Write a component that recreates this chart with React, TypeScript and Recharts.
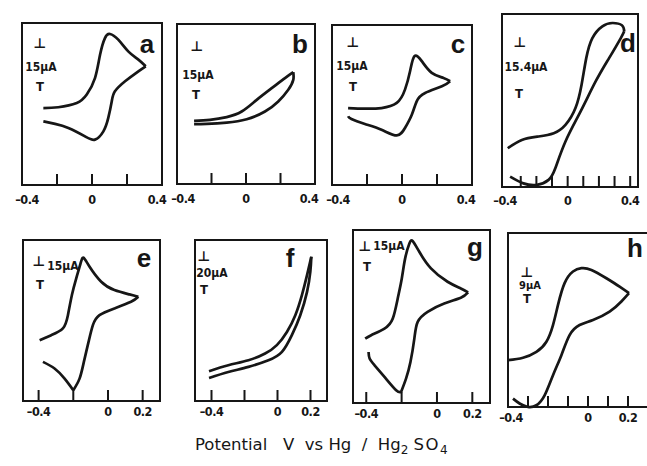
import { LineChart, Line, XAxis, YAxis, ReferenceLine, ReferenceArea } from 'recharts';

// current is in relative units: 0 = bottom of the frame, 100 = top of the frame
type Pt = { v: number; i: number };
const pts = (rows: number[][]): Pt[] => rows.map(([v, i]) => ({ v, i }));

// a
const aForward = pts([[-0.278, 47.5], [-0.193, 48], [-0.087, 50.6], [-0.03, 55.8], [0.017, 66], [0.046, 80.4], [0.074, 90.7], [0.103, 93.2], [0.15, 89.7], [0.207, 82.5], [0.265, 77.4], [0.307, 73.3]]);
const aReverse = pts([[0.307, 73.3], [0.265, 70.2], [0.189, 64], [0.131, 57.8], [0.113, 51.7], [0.093, 41.4], [0.065, 33.1], [0.017, 28], [-0.04, 30], [-0.135, 35.2], [-0.211, 37.7], [-0.278, 39.3]]);

// b
const bForward = pts([[-0.301, 39.4], [-0.209, 40.1], [-0.112, 41.8], [-0.025, 45.3], [0.062, 52.6], [0.149, 59.9], [0.226, 66.2], [0.274, 69.9]]);
const bReverse = pts([[0.274, 69.9], [0.274, 65.1], [0.245, 58.9], [0.187, 51.6], [0.11, 45.3], [0.004, 40.5], [-0.112, 38.4], [-0.228, 37.6], [-0.301, 37.4]]);

// c
const cForward = pts([[-0.308, 48.1], [-0.212, 47.7], [-0.117, 48.1], [-0.03, 51.3], [0.017, 59.6], [0.046, 71.1], [0.071, 80.5], [0.113, 77.4], [0.17, 70.1], [0.237, 66.9], [0.275, 64.9]]);
const cReverse = pts([[0.275, 64.9], [0.228, 61.7], [0.132, 57.5], [0.084, 52.3], [0.056, 43.9], [0.017, 35.6], [-0.03, 31], [-0.117, 34.5], [-0.212, 38.1], [-0.289, 41.2], [-0.308, 42.9]]);

// d
const dForward = pts([[-0.383, 22.4], [-0.293, 27.2], [-0.186, 29.2], [-0.089, 31.1], [-0.014, 35.9], [0.05, 45.6], [0.089, 59.1], [0.119, 74.5], [0.158, 86.1], [0.222, 92.9], [0.287, 94.8], [0.347, 93.5], [0.362, 90]]);
const dReverse = pts([[0.362, 90], [0.34, 86.1], [0.265, 74.5], [0.179, 61], [0.083, 43.7], [-0.014, 26.3], [-0.079, 10.8], [-0.122, 4.1], [-0.196, 1.2], [-0.283, 2.1], [-0.368, 6]]);

// e
const eForward = pts([[-0.394, 37.8], [-0.327, 40.9], [-0.26, 45.1], [-0.231, 53.3], [-0.208, 65.8], [-0.183, 76.2], [-0.158, 85.5], [-0.141, 89], [-0.106, 83.4], [-0.039, 74.1], [0.037, 68.9], [0.124, 66.2], [0.175, 64.7]]);
const eReverse = pts([[0.175, 64.7], [0.133, 61.6], [0.037, 57.5], [-0.049, 53.3], [-0.087, 47.1], [-0.112, 36.7], [-0.139, 24.3], [-0.164, 13.9], [-0.2, 6.7]]);
const eTail = pts([[-0.2, 6.7], [-0.25, 13.9], [-0.308, 20.2], [-0.375, 24.3]]);

// f
const fForward = pts([[-0.415, 18.5], [-0.298, 22.2], [-0.176, 25.3], [-0.075, 29.5], [-0.004, 34.7], [0.057, 42.9], [0.108, 53.3], [0.148, 65.8], [0.179, 78.2], [0.205, 89.6]]);
const fReverse = pts([[0.205, 89.6], [0.199, 80.3], [0.179, 67.8], [0.138, 53.3], [0.087, 40.9], [0.027, 30.5], [-0.055, 25.3], [-0.176, 21.2], [-0.298, 18], [-0.415, 14.3]]);

// g
const gForward = pts([[-0.406, 37.2], [-0.372, 39.2], [-0.297, 43], [-0.25, 48.8], [-0.222, 60.4], [-0.199, 72], [-0.18, 83.6], [-0.156, 92.2], [-0.137, 93.6], [-0.1, 87.4], [-0.034, 77.8], [0.06, 70.1], [0.135, 66.2], [0.176, 63.9]]);
const gReverse = pts([[0.176, 63.9], [0.135, 60.8], [0.041, 57.5], [-0.053, 52.7], [-0.109, 46.9], [-0.128, 37.2], [-0.15, 23.7], [-0.175, 14.1], [-0.203, 6.4]]);
const gTail = pts([[-0.203, 6.4], [-0.231, 7.4], [-0.297, 15.1], [-0.353, 21.8], [-0.381, 25.7], [-0.387, 29.5]]);

// h
const hForward = pts([[-0.4, 26.9], [-0.325, 28.3], [-0.258, 31.7], [-0.208, 37.5], [-0.175, 47.1], [-0.15, 58.7], [-0.117, 71.2], [-0.075, 77.9], [-0.033, 79.8], [0.017, 78.8], [0.092, 74], [0.158, 69.2], [0.205, 65.4]]);
const hReverse = pts([[0.205, 65.4], [0.167, 60.6], [0.108, 54.8], [0.025, 50], [-0.042, 47.1], [-0.092, 41.3], [-0.133, 29.8], [-0.175, 18.3], [-0.217, 6.7], [-0.258, 1], [-0.3, 0], [-0.342, 2], [-0.375, 4.8]]);

// axis ticks and labels
const ticksWide = [-0.2, 0, 0.2];
const labelsWide = [-0.4, 0, 0.4];
const ticksD = [-0.3, -0.2, -0.1, 0, 0.1, 0.2, 0.3, 0.4];
const ticksShort = [-0.4, -0.2, 0, 0.2];
const labelsShort = [-0.4, 0, 0.2];
const ticksH = [-0.3, -0.2, -0.1, 0, 0.1, 0.2];

const scaleLabels = ['15µA', '15µA', '15µA', '15.4µA', '15µA', '20µA', '15µA', '9µA'];

const INK = '#161616';
const NARROW = '"Liberation Sans Narrow", "DejaVu Sans Condensed", sans-serif';

type PanelCfg = {
  x: number; y: number; w: number; h: number;
  domain: [number, number];
  ticks: number[]; labels: number[]; gap: number; inset: number;
  sweeps: Pt[][];
};

const panels: PanelCfg[] = [
  { x: 22, y: 23, w: 140, h: 162, domain: [-0.4, 0.4], ticks: ticksWide, labels: labelsWide, gap: 9, inset: 5, sweeps: [aForward, aReverse] },
  { x: 177, y: 24, w: 138, h: 160, domain: [-0.4, 0.4], ticks: ticksWide, labels: labelsWide, gap: 9, inset: 6, sweeps: [bForward, bReverse] },
  { x: 332, y: 25, w: 140, h: 160, domain: [-0.4, 0.4], ticks: ticksWide, labels: labelsWide, gap: 9, inset: 6, sweeps: [cForward, cReverse] },
  { x: 502, y: 14, w: 136, h: 173, domain: [-0.42, 0.45], ticks: ticksD, labels: labelsWide, gap: 8, inset: 0, sweeps: [dForward, dReverse] },
  { x: 23, y: 240, w: 137, h: 161, domain: [-0.49, 0.3], ticks: ticksShort, labels: labelsShort, gap: 5, inset: 0, sweeps: [eForward, eReverse, eTail] },
  { x: 195, y: 240, w: 132, h: 161, domain: [-0.5, 0.3], ticks: ticksShort, labels: labelsShort, gap: 5, inset: 0, sweeps: [fForward, fReverse] },
  { x: 353, y: 230, w: 137, h: 173, domain: [-0.475, 0.3], ticks: ticksShort, labels: labelsShort, gap: 5, inset: 0, sweeps: [gForward, gReverse, gTail] },
  { x: 508, y: 233, w: 142, h: 174, domain: [-0.4, 0.31], ticks: ticksH, labels: labelsShort, gap: 5, inset: 3, sweeps: [hForward, hReverse] },
];

// letter: [cx, baseline]; scale bar: [top cx, cy], [text cx, cy], [bottom cx, cy]
const letters: [string, number, number][] = [
  ['a', 147, 53], ['b', 300, 53], ['c', 458, 53], ['d', 628, 52],
  ['e', 144, 267], ['f', 290, 267], ['g', 475, 256], ['h', 635, 257],
];
const bars: number[][] = [
  [40, 43, 41, 67, 40, 86],
  [197, 46, 198, 75, 196, 94],
  [353, 42, 352, 66, 353, 86],
  [520, 42, 526, 67, 519, 93],
  [39, 261, 63, 266, 40, 284],
  [204, 256, 212, 273, 204, 289],
  [365, 246, 389, 246, 367, 266],
  [527, 272, 530, 285, 527, 298],
];

const fmt = (v: number) => (v < 0 ? '\u2013' + Math.abs(v) : String(v));

function makeTick(domain: [number, number], inset: number) {
  return (props: any) => {
    const { x, y, payload } = props;
    const v = payload.value as number;
    let dx = 0;
    if (Math.abs(v - domain[0]) < 1e-6) dx = inset;
    if (Math.abs(v - domain[1]) < 1e-6) dx = -inset;
    return (
      <text
        x={x + dx}
        y={y}
        dy={10}
        textAnchor="middle"
        fill={INK}
        fontSize={12.5}
        fontWeight={700}
        fontFamily={NARROW}
        letterSpacing={-0.5}
      >
        {fmt(v)}
      </text>
    );
  };
}

function Panel({ cfg }: { cfg: PanelCfg }) {
  const padX = 16;
  const padY = 2;
  const axisH = 24;
  const tickLen = (11 / cfg.h) * 100;
  return (
    <div style={{ position: 'absolute', left: cfg.x - padX, top: cfg.y - padY }}>
      <LineChart
        width={cfg.w + padX * 2}
        height={cfg.h + padY + axisH}
        margin={{ top: padY, right: padX, bottom: 0, left: padX }}
      >
        <XAxis
          type="number"
          dataKey="v"
          domain={cfg.domain}
          ticks={cfg.labels}
          interval={0}
          axisLine={false}
          tickLine={false}
          tickSize={0}
          tickMargin={cfg.gap}
          height={axisH}
          tick={makeTick(cfg.domain, cfg.inset)}
        />
        <YAxis type="number" domain={[0, 100]} hide />
        <ReferenceArea
          x1={cfg.domain[0]}
          x2={cfg.domain[1]}
          y1={0}
          y2={100}
          fill="none"
          fillOpacity={0}
          stroke={INK}
          strokeWidth={2}
          ifOverflow="visible"
        />
        {cfg.ticks.map((t) => (
          <ReferenceLine
            key={t}
            segment={[{ x: t, y: 0 }, { x: t, y: tickLen }]}
            stroke={INK}
            strokeWidth={2}
            ifOverflow="visible"
          />
        ))}
        {cfg.sweeps.map((s, k) => (
          <Line
            key={k}
            data={s}
            dataKey="i"
            type="natural"
            stroke={INK}
            strokeWidth={2.7}
            dot={false}
            isAnimationActive={false}
          />
        ))}
      </LineChart>
    </div>
  );
}

function Txt({ x, y, size, children, family = NARROW, weight = 700 }: any) {
  return (
    <div
      style={{
        position: 'absolute', left: x, top: y, transform: 'translate(-50%, -50%)',
        fontFamily: family, fontWeight: weight, fontSize: size, lineHeight: 1,
        color: INK, whiteSpace: 'pre',
      }}
    >
      {children}
    </div>
  );
}

export default function App() {
  const cap = { fontFamily: '"DejaVu Sans", sans-serif', fontSize: 16.5, lineHeight: 1, color: INK, whiteSpace: 'pre' as const };
  return (
    <div style={{ position: 'absolute', left: 0, top: 0, width: 647, height: 466, overflow: 'hidden', background: '#fff' }}>
      {panels.map((p, k) => (
        <Panel key={k} cfg={p} />
      ))}
      {letters.map(([l, cx, base]) => (
        <div
          key={l}
          style={{
            position: 'absolute', left: cx - 20, width: 40, top: base - 24, textAlign: 'center',
            fontFamily: '"Liberation Sans", Arial, sans-serif', fontWeight: 700, fontSize: 26,
            lineHeight: '30px', height: 30, color: INK,
          }}
        >
          {l}
        </div>
      ))}
      {bars.map((b, k) => (
        <div key={k}>
          <Txt x={b[0]} y={b[1]} size={14} family='"DejaVu Sans", sans-serif' weight={700}>⊥</Txt>
          <Txt x={b[2]} y={b[3]} size={k === 7 ? 11 : 12}>{scaleLabels[k]}</Txt>
          <Txt x={b[4]} y={b[5]} size={13}>T</Txt>
        </div>
      ))}
      <div style={{ ...cap, position: 'absolute', left: 195, top: 437 }}>
        {'Potential   V  vs Hg  /  Hg'}
        <sub style={{ fontSize: 12 }}>2</sub>
        {' '}
        <span style={{ letterSpacing: 1.5 }}>SO</span>
        <sub style={{ fontSize: 12 }}>4</sub>
      </div>
    </div>
  );
}
